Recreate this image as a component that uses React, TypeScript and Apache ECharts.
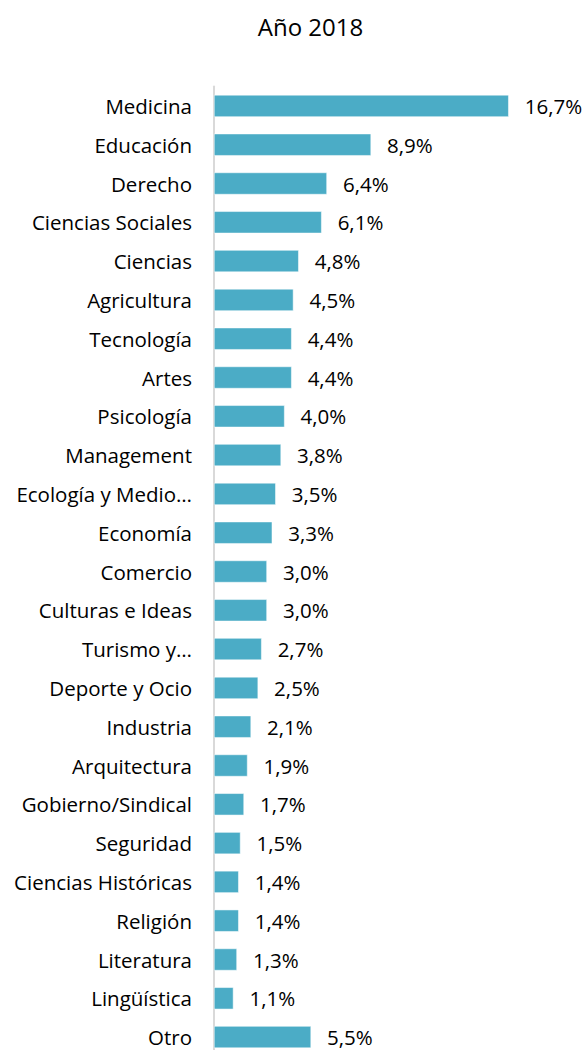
import React, { useEffect, useRef } from "react";
import * as echarts from "echarts";

const categories = [
  "Medicina", "Educación", "Derecho", "Ciencias Sociales", "Ciencias", "Agricultura",
  "Tecnología", "Artes", "Psicología", "Management", "Ecología y Medio…", "Economía",
  "Comercio", "Culturas e Ideas", "Turismo y…", "Deporte y Ocio", "Industria",
  "Arquitectura", "Gobierno/Sindical", "Seguridad", "Ciencias Históricas", "Religión",
  "Literatura", "Lingüística", "Otro",
];
const values = [
  16.7, 8.9, 6.4, 6.1, 4.8, 4.5, 4.4, 4.4, 4.0, 3.8, 3.5, 3.3, 3.0, 3.0, 2.7, 2.5, 2.1,
  1.9, 1.7, 1.5, 1.4, 1.4, 1.3, 1.1, 5.5,
];
const title = "Año 2018";

const FONT = "'Open Sans', sans-serif";

export default function App() {
  const ref = useRef<HTMLDivElement>(null);
  useEffect(() => {
    document.body.style.margin = "0";
    const chart = echarts.init(ref.current!, null, { renderer: "svg" });
    chart.setOption({
      animation: false,
      backgroundColor: "#ffffff",
      title: {
        text: title,
        left: "center",
        top: 9,
        textStyle: { fontFamily: FONT, fontSize: 24, fontWeight: "normal", color: "#000" },
      },
      graphic: [],
      grid: { left: 214, top: 86.5, width: 300, height: 970, containLabel: false },
      xAxis: {
        type: "value",
        min: 0,
        max: 17,
        show: false,
      },
      yAxis: {
        type: "category",
        data: categories,
        inverse: true,
        axisLine: { show: true, lineStyle: { color: "#d9d9d9", width: 2 } },
        axisTick: { show: false },
        axisLabel: { fontFamily: FONT, fontSize: 20.5, color: "#000", margin: 22 },
      },
      series: [
        {
          type: "bar",
          data: values,
          barWidth: 22,
          itemStyle: { color: "#4bacc6", borderColor: "#ffffff", borderWidth: 0.5 },
          label: {
            show: true,
            position: "right",
            distance: 16,
            fontFamily: FONT,
            fontSize: 20.5,
            color: "#000",
            formatter: (p: any) => p.value.toFixed(1).replace(".", ",") + "%",
          },
        },
      ],
    });
    return () => chart.dispose();
  }, []);
  return (
    <div style={{ width: 588, height: 1050, overflow: "hidden" }}>
      <div ref={ref} style={{ width: 621, height: 1080 }} />
    </div>
  );
}
